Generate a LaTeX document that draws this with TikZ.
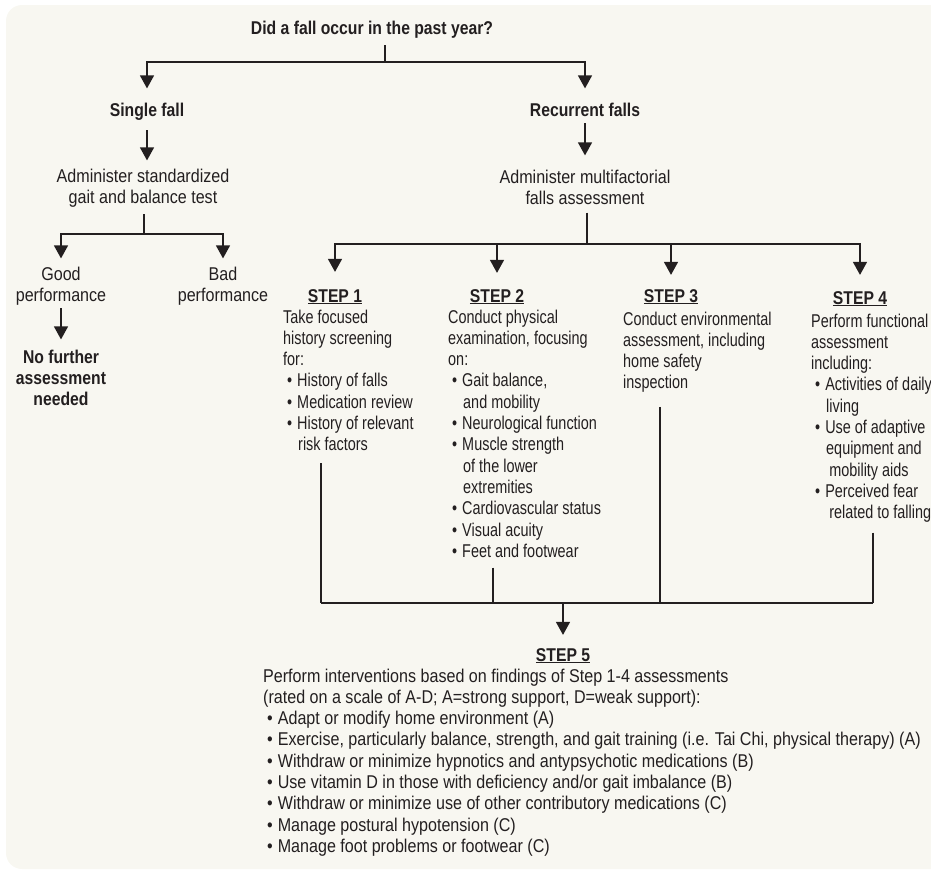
\documentclass[tikz,border=0pt]{standalone}
\usepackage{fontspec}
\setmainfont{Liberation Sans}[UprightFeatures={FakeStretch=0.78},BoldFeatures={FakeStretch=0.85}]
\newfontfamily\widefont{Liberation Sans}[FakeStretch=0.87]
\usetikzlibrary{positioning,arrows.meta}
\definecolor{ink}{HTML}{231F20}
\definecolor{cream}{HTML}{F8F7F1}
\newcommand{\bul}{\hspace*{4pt}\textbullet\hspace{5pt}}
\newcommand{\cont}{\hspace*{15pt}}

\begin{document}
\begin{tikzpicture}[x=1pt,y=-1pt,
  every node/.style={inner sep=0pt,text=ink,font=\fontsize{18.5}{21.3}\selectfont},
  lbl/.style={anchor=base,align=center,font=\fontsize{18.5}{21.3}\selectfont\widefont},
  hd/.style={anchor=base,align=center,font=\fontsize{18.5}{21.3}\selectfont\bfseries},
  body/.style={anchor=base west,align=left},
  line/.style={draw=ink,line width=1.3pt},
  arr/.style={line,-{Triangle[width=14pt,length=13pt]}}]
  \useasboundingbox (0,0) rectangle (931,870);
  \fill[cream,rounded corners=16pt] (6,5) rectangle (960,869);
  \node[hd] (q) at (372,34) {Did a fall occur in the past year?};
  \node[hd] (single) at (147,116) {Single fall};
  \node[hd] (recur) at (585,116) {Recurrent falls};
  \node[lbl] (gait) at (143,203.3) {Administer standardized\\gait and balance test};
  \node[lbl] (multi) at (585,204.3) {Administer multifactorial\\falls assessment};
  \node[lbl] (good) at (61,301.3) {Good\\performance};
  \node[lbl] (bad) at (223,301.3) {Bad\\performance};
  \node[hd] (none) at (61,405.6) {No further\\assessment\\needed};
  \node[hd] (s1) at (335,302) {\underline{STEP 1}};
  \node[hd] (s2) at (497,302) {\underline{STEP 2}};
  \node[hd] (s3) at (671,302) {\underline{STEP 3}};
  \node[hd] (s4) at (860,304) {\underline{STEP 4}};
  \node[body] (b1) at (283,450.8) {Take focused\\history screening\\for:\\\bul History of falls\\\bul Medication review\\\bul History of relevant\\\cont risk factors};
  \node[body] (b2) at (448,557.3) {Conduct physical\\examination, focusing\\on:\\\bul Gait balance,\\\cont and mobility\\\bul Neurological function\\\bul Muscle strength\\\cont of the lower\\\cont extremities\\\bul Cardiovascular status\\\bul Visual acuity\\\bul Feet and footwear};
  \node[body] (b3) at (623,388.9) {Conduct environmental\\assessment, including\\home safety\\inspection};
  \node[body] (b4) at (811,518.7) {Perform functional\\assessment\\including:\\\bul Activities of daily\\\cont living\\\bul Use of adaptive\\\cont equipment and\\\cont\,mobility aids\\\bul Perceived fear\\\cont\,related to falling};
  \node[hd] (s5) at (563,661) {\underline{STEP 5}};
  \node[body,font=\fontsize{18.5}{21.3}\selectfont\widefont] (b5) at (263,852.4) {Perform interventions based on findings of Step 1-4 assessments\\(rated on a scale of A-D; A=strong support, D=weak support):\\\bul Adapt or modify home environment (A)\\\bul Exercise, particularly balance, strength, and gait training (i.e. Tai Chi, physical therapy) (A)\\\bul Withdraw or minimize hypnotics and antypsychotic medications (B)\\\bul Use vitamin D in those with deficiency and/or gait imbalance (B)\\\bul Withdraw or minimize use of other contributory medications (C)\\\bul Manage postural hypotension (C)\\\bul Manage foot problems or footwear (C)};
  \coordinate (j0) at (385,62);
  \coordinate (j1) at (144,234);
  \coordinate (j2) at (587,244);
  \coordinate (k1) at (321,603);
  \coordinate (k2) at (493,603);
  \coordinate (k3) at (660,603);
  \coordinate (k4) at (873,603);
  \coordinate (k5) at (563,603);
  \draw[line,shorten <=7pt] (q.south -| j0) -- (j0);
  \draw[arr,shorten >=14pt] (j0) -| (single);
  \draw[arr,shorten >=14pt] (j0) -| (recur);
  \draw[arr,shorten <=10pt,shorten >=8pt] (single) -- (single |- gait.north);
  \draw[arr,shorten <=7pt,shorten >=14pt] (recur) -- (multi);
  \draw[line,shorten <=7pt] (gait.south -| j1) -- (j1);
  \draw[arr,shorten >=8pt] (j1) -| (good);
  \draw[arr,shorten >=8pt] (j1) -| (bad);
  \draw[arr,shorten <=3pt,shorten >=10pt] (good) -- (none);
  \draw[line,shorten <=8pt] (multi.south -| j2) -- (j2);
  \draw[arr,shorten >=17pt] (j2) -| (s1);
  \draw[arr,shorten >=16pt] (s2 |- j2) -- (s2);
  \draw[arr,shorten >=14pt] (s3 |- j2) -- (s3);
  \draw[arr,shorten >=16pt] (j2) -| (s4);
  \draw[line,shorten <=12pt] (b1.south -| k1) -- (k1);
  \draw[line,shorten <=10pt] (b2.south -| k2) -- (k2);
  \draw[line,shorten <=14pt] (b3.south -| k3) -- (k3);
  \draw[line,shorten <=10pt] (b4.south -| k4) -- (k4);
  \draw[line] (k1) -- (k4);
  \draw[arr,shorten >=13pt] (k5) -- (s5);
\end{tikzpicture}
\end{document}
